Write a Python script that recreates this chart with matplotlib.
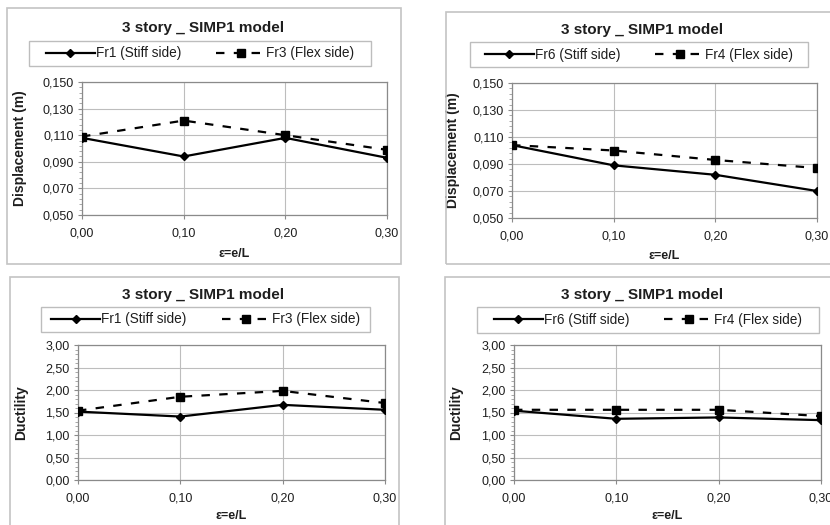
import matplotlib
matplotlib.use("Agg")
import matplotlib.pyplot as plt
from matplotlib.patches import Rectangle
from matplotlib.ticker import FixedLocator, FuncFormatter, AutoMinorLocator

plt.rcParams['font.family'] = ['Liberation Sans', 'DejaVu Sans']

# eccentricity values on the x axis
ecc = [0.00, 0.10, 0.20, 0.30]
ecc_ticks = [0.00, 0.10, 0.20, 0.30]

# displacement (m)
disp_fr1 = [0.108, 0.094, 0.108, 0.093]
disp_fr3 = [0.109, 0.121, 0.110, 0.099]
disp_fr6 = [0.104, 0.089, 0.082, 0.070]
disp_fr4 = [0.104, 0.100, 0.093, 0.087]
disp_ticks = [0.050, 0.070, 0.090, 0.110, 0.130, 0.150]

# ductility
duct_fr1 = [1.52, 1.41, 1.67, 1.56]
duct_fr3 = [1.54, 1.85, 1.98, 1.71]
duct_fr6 = [1.54, 1.36, 1.39, 1.33]
duct_fr4 = [1.56, 1.56, 1.56, 1.42]
duct_ticks = [0.00, 0.50, 1.00, 1.50, 2.00, 2.50, 3.00]

title = "3 story _ SIMP1 model"
xlabel = "\u03b5=e/L"

W, H = 830, 525
fig = plt.figure(figsize=(W / 100, H / 100), dpi=100)
fig.patch.set_facecolor("white")

TXT = "#1e1e1e"


def rect(x0, y0, x1, y1):
    return [x0 / W, 1 - y1 / H, (x1 - x0) / W, (y1 - y0) / H]


def box(x0, y0, x1, y1, color, lw):
    r = rect(x0, y0, x1, y1)
    fig.patches.append(Rectangle((r[0], r[1]), r[2], r[3],
                                 transform=fig.transFigure, fill=False,
                                 edgecolor=color, linewidth=lw, zorder=0))


def panel(frame, plot, leg, title_xy, ylab_x, xlab_y, stiff, flex, names,
          yticks, fmt, ylabel):
    # outer chart frame and legend box
    box(*frame, "#c4c4c4", 1.2)
    box(*leg, "#bdbdbd", 1.0)
    fig.text(title_xy[0] / W, 1 - title_xy[1] / H, title, ha="center",
             va="center", fontsize=11, fontweight="bold", color=TXT)

    ax = fig.add_axes(rect(*plot))
    ax.plot(ecc, stiff, color="black", linewidth=1.6, marker="D",
            markersize=4, label=names[0], zorder=3)
    ax.plot(ecc, flex, color="black", linewidth=1.6, linestyle=(0, (3.8, 4.2)),
            marker="s", markersize=5.5, label=names[1], zorder=3)

    ax.set_xlim(ecc_ticks[0], ecc_ticks[-1])
    ax.set_ylim(yticks[0], yticks[-1])
    ax.xaxis.set_major_locator(FixedLocator(ecc_ticks))
    ax.yaxis.set_major_locator(FixedLocator(yticks))
    ax.yaxis.set_minor_locator(AutoMinorLocator(5))
    ax.xaxis.set_major_formatter(FuncFormatter(lambda v, p: f"{v:.2f}".replace(".", ",")))
    ax.yaxis.set_major_formatter(FuncFormatter(lambda v, p: fmt.format(v).replace(".", ",")))
    ax.grid(True, color="#bdbdbd", linewidth=0.8)
    ax.set_axisbelow(True)
    for s in ax.spines.values():
        s.set_color("#8a8a8a")
        s.set_linewidth(0.9)
    ax.tick_params(axis="both", which="major", length=3, width=0.8,
                   color="#8a8a8a", labelsize=9, labelcolor=TXT)
    ax.tick_params(axis="y", which="minor", length=2, width=0.6,
                   color="#9a9a9a")
    ax.tick_params(axis="x", pad=6)
    ax.tick_params(axis="y", pad=3)

    ax.set_ylabel(ylabel, fontsize=10, fontweight="bold", color=TXT)
    ax.set_xlabel(xlabel, fontsize=9, fontweight="bold", color=TXT)
    pw, ph = plot[2] - plot[0], plot[3] - plot[1]
    ax.yaxis.set_label_coords((ylab_x - plot[0]) / pw, 0.5)
    ax.xaxis.set_label_coords(0.5, -(xlab_y - plot[3]) / ph)

    handles, labels = ax.get_legend_handles_labels()
    fig.legend(handles, labels, loc="center", ncol=2,
               bbox_to_anchor=((leg[0] + leg[2]) / 2 / W,
                               1 - (leg[1] + leg[3]) / 2 / H),
               fontsize=9.8, frameon=False,
               handlelength=3.6, handletextpad=0.05, columnspacing=2.6,
               borderpad=0, labelcolor=TXT)
    return ax


panel((7, 8, 401, 264), (82, 82, 387, 215), (29, 41, 371, 66), (203, 28),
      27, 248, disp_fr1, disp_fr3,
      ["Fr1 (Stiff side)", "Fr3 (Flex side)"], disp_ticks, "{:.3f}",
      "Displacement (m)")
panel((446, 12, 840, 264), (512, 83, 817, 218), (470, 42, 808, 67), (642, 30),
      460, 250, disp_fr6, disp_fr4,
      ["Fr6 (Stiff side)", "Fr4 (Flex side)"], disp_ticks, "{:.3f}",
      "Displacement (m)")
panel((10, 277, 399, 540), (78, 345, 385, 480), (41, 307, 370, 332), (203, 295),
      28, 510, duct_fr1, duct_fr3,
      ["Fr1 (Stiff side)", "Fr3 (Flex side)"], duct_ticks, "{:.2f}",
      "Ductility")
panel((445, 277, 840, 540), (514, 345, 821, 480), (477, 307, 819, 333), (642, 295),
      463, 510, duct_fr6, duct_fr4,
      ["Fr6 (Stiff side)", "Fr4 (Flex side)"], duct_ticks, "{:.2f}",
      "Ductility")

fig.savefig("out.png", dpi=100)
